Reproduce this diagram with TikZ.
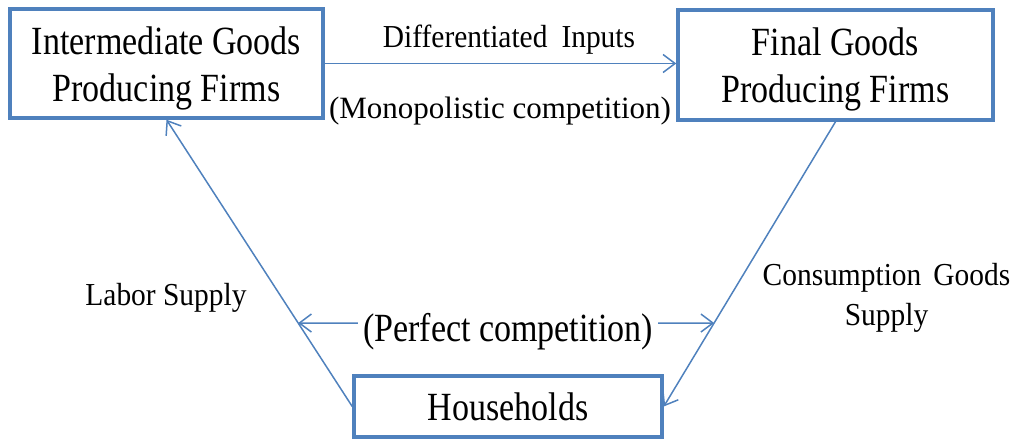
\documentclass[tikz,border=0pt]{standalone}
\usepackage{fontspec}
\setmainfont{Liberation Serif}
\newfontfamily\boxfont{Liberation Serif}[FakeStretch=0.85]
\newfontfamily\labelfont{Liberation Serif}[FakeStretch=0.92]
\usetikzlibrary{arrows.meta}
\definecolor{flowblue}{RGB}{79,129,189}
\begin{document}
\begin{tikzpicture}[x=1pt,y=-1pt,
  agent/.style={draw=flowblue, line width=3.5pt, rectangle, inner sep=0pt,
    align=center, font=\boxfont\fontsize{40}{46.7}\selectfont},
  bigtag/.style={inner ysep=0pt, inner xsep=5pt, anchor=base,
    font=\boxfont\fontsize{40}{46.7}\selectfont},
  tag/.style={inner sep=0pt, anchor=base, font=\labelfont\fontsize{32}{40}\selectfont},
  flow/.style={draw=flowblue, line width=1.5pt, -{Straight Barb[length=12pt,width=18pt]}}]
\useasboundingbox (0,0) rectangle (1017,439);

% the three agents
\node[agent, minimum width=313pt, minimum height=109pt] (ig) at (166.5,63.5)
  {\rule{0pt}{37pt}Intermediate Goods\\Producing Firms};
\node[agent, minimum width=315pt, minimum height=110pt] (fg) at (835.5,65)
  {\rule{0pt}{36pt}Final Goods\\Producing Firms};
\node[agent, minimum width=308pt, minimum height=61pt] (hh) at (508,406.5)
  {Households};

% market structure between households and firms
\node[bigtag] (pc) at (508,341) {(Perfect competition)};
\coordinate (pcy) at (0,323);
\coordinate (pl) at (pc.west |- pcy);
\coordinate (pr) at (pc.east |- pcy);
\coordinate (lx) at (intersection of hh.west--ig.south and pl--pr);
\coordinate (rx) at (intersection of fg.south--hh.east and pl--pr);

% flows
\draw[flow] (ig.east) -- (fg.west |- ig.east);
\draw[flow] (hh.west) -- (ig.south);
\draw[flow] (fg.south) -- (hh.east);
\draw[flow] (pl) -- (lx);
\draw[flow] (pr) -- (rx);

% flow labels
\node[tag] (di) at (509,47) {Differentiated\hspace{14pt}Inputs};
\node[tag, font=\fontsize{31}{40}\selectfont] (mc) at (500,118) {(Monopolistic competition)};
\node[tag] (ls) at (166,305) {Labor Supply};
\node[tag, anchor=center, align=center] (cg) at (886.5,297.5)
  {Consumption\hspace{12pt}Goods\\Supply};
\end{tikzpicture}
\end{document}
